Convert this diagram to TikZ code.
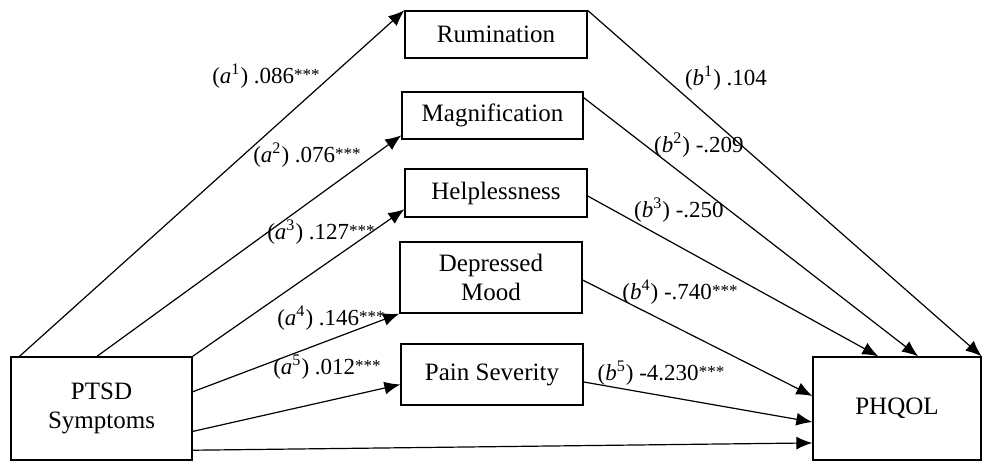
\documentclass[tikz,border=0pt]{standalone}
\usepackage{fontspec}
\setmainfont{Liberation Serif}
\usetikzlibrary{arrows.meta,calc}
\newcommand{\sig}{\raisebox{0.3ex}{\fontsize{8.5}{9}\selectfont***}}
\newcommand{\pth}[2]{(\textit{#1}\textsuperscript{#2})}
\tikzset{
  varbox/.style={draw,line width=0.65pt,minimum width=91pt,minimum height=23.5pt,inner sep=0pt,align=center,font=\fontsize{12.5}{14.5}\selectfont},
  link/.style={line width=0.6pt,-{Latex[length=8pt,width=6.5pt]}},
  coef/.style={inner sep=0pt,font=\fontsize{11.5}{13}\selectfont}
}
\begin{document}
\begin{tikzpicture}[x=0.5pt,y=-0.5pt]
\useasboundingbox (0,0) rectangle (982,461);
\node[varbox,minimum width=90.5pt,minimum height=51.5pt] (ptsd) at (101.5,408.5) {PTSD\\Symptoms};
\node[varbox,minimum width=84pt,minimum height=51.5pt] (phqol) at (897,408.5) {PHQOL};
\node[varbox] (rum) at (496,34.5) {Rumination};
\node[varbox,minimum width=90.5pt] (mag) at (492.5,115.5) {Magnification};
\node[varbox,minimum height=24pt] (help) at (496,193) {Helplessness};
\node[varbox,minimum height=35.5pt] (dep) at (491,277.5) {Depressed\\Mood};
\node[varbox,minimum height=30.5pt] (pain) at (492,374.5) {Pain Severity};
% a paths
\draw[link] ($(ptsd.north west)!0.05!(ptsd.north east)$) -- (rum.north west);
\draw[link] ($(ptsd.north west)!0.475!(ptsd.north east)$) -- ($(mag.north west)!0.91!(mag.south west)$);
\draw[link] (ptsd.north east) -- ($(help.north west)!0.83!(help.south west)$);
\draw[link] ($(ptsd.north east)!0.34!(ptsd.south east)$) -- (dep.south west);
\draw[link] ($(ptsd.north east)!0.72!(ptsd.south east)$) -- ($(pain.north west)!0.66!(pain.south west)$);
\draw[link] ($(ptsd.north east)!0.9!(ptsd.south east)$) -- ($(phqol.north west)!0.83!(phqol.south west)$);
% b paths
\draw[link] (rum.north east) -- (phqol.north east);
\draw[link] ($(mag.north east)!0.13!(mag.south east)$) -- ($(phqol.north west)!0.625!(phqol.north east)$);
\draw[link] ($(help.north east)!0.56!(help.south east)$) -- ($(phqol.north west)!0.39!(phqol.north east)$);
\draw[link] ($(dep.north east)!0.535!(dep.south east)$) -- ($(phqol.north west)!0.38!(phqol.south west)$);
\draw[link] ($(pain.north east)!0.62!(pain.south east)$) -- ($(phqol.north west)!0.63!(phqol.south west)$);
\node[coef] (la1) at (266,76) {\pth{a}{1} .086\sig};
\node[coef] (la2) at (307,155) {\pth{a}{2} .076\sig};
\node[coef] (la3) at (321,232) {\pth{a}{3} .127\sig};
\node[coef] (la4) at (331,318) {\pth{a}{4} .146\sig};
\node[coef] (la5) at (327,367) {\pth{a}{5} .012\sig};
\node[coef] (lb1) at (726,78) {\pth{b}{1} .104};
\node[coef] (lb2) at (699,145) {\pth{b}{2} -.209};
\node[coef] (lb3) at (679,210) {\pth{b}{3} -.250};
\node[coef] (lb4) at (680,292) {\pth{b}{4} -.740\sig};
\node[coef] (lb5) at (661,373) {\pth{b}{5} -4.230\sig};
\end{tikzpicture}
\end{document}
